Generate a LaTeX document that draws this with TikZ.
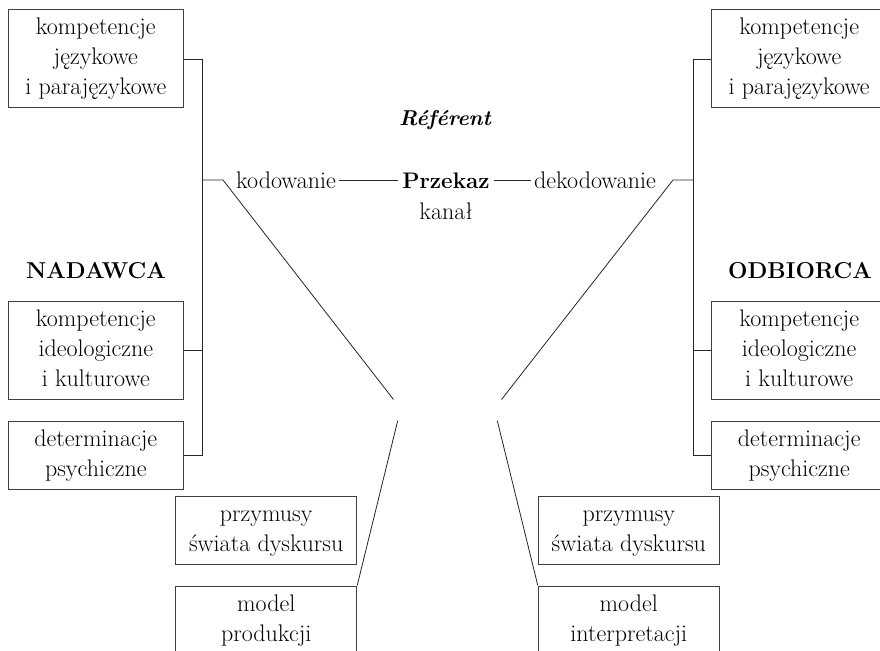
\documentclass[tikz,border=0pt]{standalone}
\usepackage{fontspec}
\begin{document}
\begin{tikzpicture}[x=1pt,y=-1pt,
  every node/.style={font=\fontsize{24}{30}\selectfont, text=black},
  box/.style={draw=black!75, line width=1pt, inner sep=0pt, minimum width=175pt, align=center},
  tallbox/.style={box, minimum height=98pt},
  shortbox/.style={box, minimum height=68pt},
  widebox/.style={box, minimum width=181pt, minimum height=68pt},
  conn/.style={draw=black!85, line width=0.8pt},
  lbl/.style={inner ysep=0pt, inner xsep=3pt, anchor=base}]
\useasboundingbox (0,0) rectangle (880,650);
\clip (0,0) rectangle (880,650);
% left column
\node[tallbox] (L1) at (95.8,59) {kompetencje\strut\\językowe\strut\\i parajęzykowe\strut};
\node[tallbox] (L2) at (95.8,350) {kompetencje\strut\\ideologiczne\strut\\i kulturowe\strut};
\node[shortbox] (L3) at (95.8,455) {determinacje\strut\\psychiczne\strut};
% right column
\node[tallbox] (R1) at (799.2,59) {kompetencje\strut\\językowe\strut\\i parajęzykowe\strut};
\node[tallbox] (R2) at (799.2,350) {kompetencje\strut\\ideologiczne\strut\\i kulturowe\strut};
\node[shortbox] (R3) at (799.2,455) {determinacje\strut\\psychiczne\strut};
% bottom boxes
\node[widebox] (LP) at (266.2,530.5) {przymusy\strut\\świata dyskursu\strut};
\node[widebox] (LM) at (266.2,620) {model\strut\\produkcji\strut};
\node[widebox] (RP) at (628.8,530.5) {przymusy\strut\\świata dyskursu\strut};
\node[widebox] (RM) at (628.8,620) {model\strut\\interpretacji\strut};
% labels
\node[lbl, font=\fontsize{23}{30}\selectfont\bfseries] (nad) at (96,278) {NADAWCA};
\node[lbl, font=\fontsize{23}{30}\selectfont\bfseries] (odb) at (800,278) {ODBIORCA};
\node[lbl, font=\fontsize{21.5}{30}\selectfont\bfseries\itshape] (ref) at (445,125) {Référent};
\node[lbl] (kod) at (286,188) {kodowanie};
\node[lbl, inner xsep=4pt, font=\fontsize{22.5}{30}\selectfont\bfseries] (prz) at (446,188) {Przekaz};
\node[lbl] (dek) at (595,188) {dekodowanie};
\node[lbl] (kan) at (446,219) {kanał};
% helper coordinates
\coordinate (lv) at (202,0);
\coordinate (rv) at (693,0);
\coordinate (mid) at (0,180);
\coordinate (kj) at (223,180);
\coordinate (rj) at (673,180);
\coordinate (lt) at (393.5,399.5);
\coordinate (lb) at (397.7,420.7);
\coordinate (rt) at (501.5,399.5);
\coordinate (rb) at (497.3,420.7);
% left connectors
\draw[conn] (L1.east) -- (L1.east -| lv) -- (L3.east -| lv) -- (L3.east);
\draw[conn] (L2.east) -- (L2.east -| lv);
\draw[conn] (kj -| lv) -- (kj) -- (lt);
\draw[conn] (lb) -- (LM.north east);
% right connectors
\draw[conn] (R1.west) -- (R1.west -| rv) -- (R3.west -| rv) -- (R3.west);
\draw[conn] (R2.west) -- (R2.west -| rv);
\draw[conn] (rj -| rv) -- (rj) -- (rt);
\draw[conn] (rb) -- (RM.north west);
% message line
\draw[conn] (kod.east |- mid) -- (prz.west |- mid);
\draw[conn] (prz.east |- mid) -- (dek.west |- mid);
\end{tikzpicture}
\end{document}
